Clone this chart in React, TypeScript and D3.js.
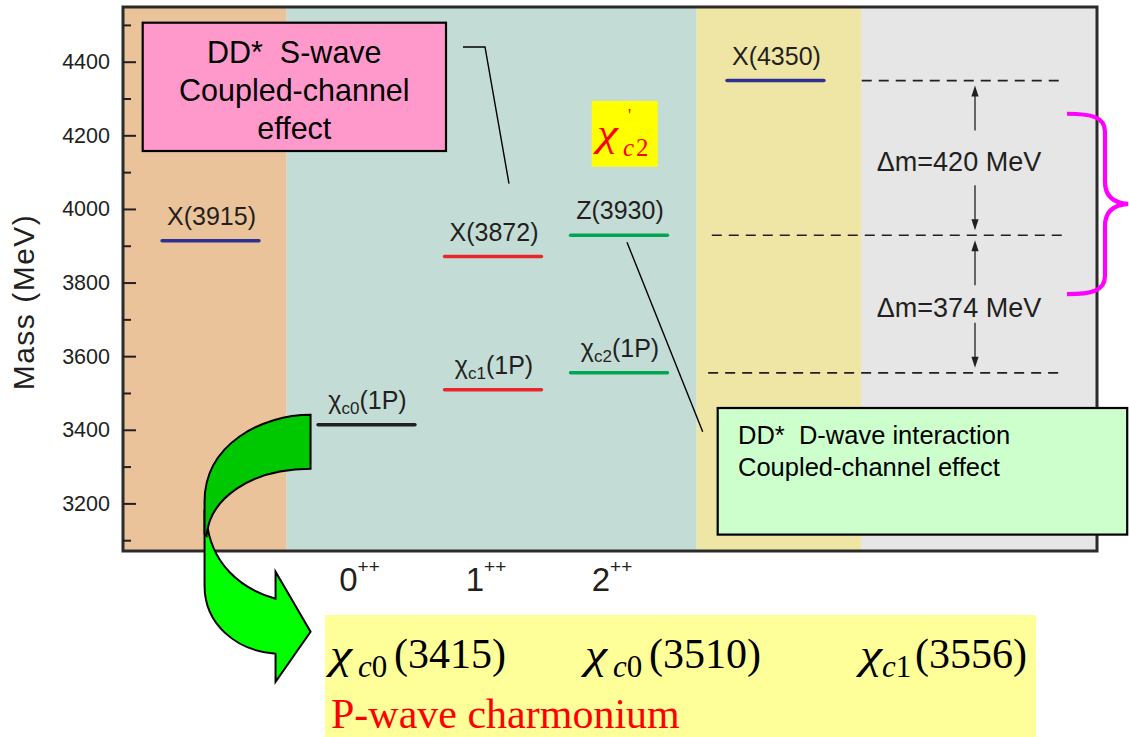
import React from "react";
import * as d3 from "d3";

// Mass axis ticks (MeV)
const massTicks = [3200, 3400, 3600, 3800, 4000, 4200, 4400];
const massMinorTicks = [3100, 3300, 3500, 3700, 3900, 4100, 4300, 4500];

// Energy levels: name, mass (MeV) and the column each one sits in
const levelNames = ["X(3915)", "χ_{c0}(1P)", "χ_{c1}(1P)", "χ_{c2}(1P)", "X(3872)", "Z(3930)", "X(4350)"];
const levelMasses = [3915, 3415, 3510, 3556, 3872, 3930, 4350];
const levelColumns = [0, 1, 2, 3, 2, 3, 4];

// J^PC columns
const jpcSpins = ["0", "1", "2"];
const jpcColumns = [1, 2, 3];

// Reference masses joined by the Δm arrows
const referenceMasses = [4350, 3930, 3556];

// P-wave charmonium listing
const pwaveSubs = ["c0", "c0", "c1"];
const pwaveMasses = [3415, 3510, 3556];

// Span of the brace (MeV)
const braceMasses = [4260, 3770];

// ---- layout & style ----
const W = 1129;
const H = 737;
const plot = { left: 123, right: 1097, top: 7, bottom: 551 };
const colUnits = [0.701, 1.95, 2.963, 3.972, 5.225];
const bands = [
  { from: 0, to: 1.311, fill: "#EBC39B" },
  { from: 1.311, to: 4.594, fill: "#C3DDD6" },
  { from: 4.594, to: 5.91, fill: "#EFE6A6" },
  { from: 5.91, to: 7.8, fill: "#E6E6E6" },
];
const dashSpans = [
  [5.916, 7.544],
  [4.715, 7.544],
  [4.686, 7.504],
];
const levelColor: Record<string, string> = {
  "X(3915)": "#2E3192",
  "X(4350)": "#2E3192",
  "χ_{c0}(1P)": "#231F20",
  "χ_{c1}(1P)": "#E8262B",
  "X(3872)": "#E8262B",
  "χ_{c2}(1P)": "#00A651",
  "Z(3930)": "#00A651",
};
const SANS = "'Liberation Sans', Arial, Helvetica, sans-serif";
const SERIF = "'Liberation Serif', 'Times New Roman', serif";
const INK = "#231F20";

const x = d3.scaleLinear().domain([0, 7.8]).range([plot.left, plot.right]);
const y = d3.scaleLinear().domain([3072, 4550]).range([plot.bottom, plot.top]);
const half = 0.4; // half length of a level line, in column units

function LevelLabel({ name, cx, by }: { name: string; cx: number; by: number }) {
  const m = name.match(/^(.*?)_\{(.*?)\}(.*)$/);
  if (!m) {
    return (
      <text x={cx} y={by} textAnchor="middle" fontFamily={SANS} fontSize={25} fill={INK}>
        {name}
      </text>
    );
  }
  return (
    <text x={cx} y={by} textAnchor="middle" fontFamily={SANS} fontSize={25} fill={INK}>
      <tspan>{m[1]}</tspan>
      <tspan fontSize={17} dy={5}>{m[2]}</tspan>
      <tspan dy={-5}>{m[3]}</tspan>
    </text>
  );
}

function arrowHead(px: number, py: number, dir: number) {
  // dir = -1 points up, +1 points down
  const len = 11;
  const w = 3.6;
  return `M${px},${py} L${px - w},${py - dir * len} L${px + w},${py - dir * len} Z`;
}

// Math-style chi: italic serif glyph widened a little
function MathChi({ cx, by, size, fill }: { cx: number; by: number; size: number; fill: string }) {
  return (
    <text
      transform={`translate(${cx}, ${by}) scale(1.25, 1)`}
      fontFamily={SERIF}
      fontStyle="italic"
      fontSize={size}
      fill={fill}
    >
      χ
    </text>
  );
}

export default function App() {
  const arrowX = x(6.823);

  // Δm arrows between neighbouring reference masses
  const gaps = referenceMasses.slice(1).map((m, i) => {
    const hi = referenceMasses[i];
    const yTop = y(hi);
    const yBot = y(m);
    const mid = (yTop + yBot) / 2;
    const g = (yBot - yTop) / 2 - 50;
    return { label: `Δm=${hi - m} MeV`, yTop, yBot, mid, g };
  });

  // brace geometry
  const bTop = y(braceMasses[0]);
  const bBot = y(braceMasses[1]);
  const bMid = (bTop + bBot) / 2;
  const bx0 = 1067;
  const bx1 = 1105;
  const bx2 = 1128;
  const bracePath = `M${bx0},${bTop} C${bx0 + 24},${bTop} ${bx1},${bTop + 3} ${bx1},${bTop + 18}
    L${bx1},${bMid - 22} C${bx1},${bMid - 7} ${bx1 + 10},${bMid - 1} ${bx2},${bMid}
    C${bx1 + 10},${bMid + 1} ${bx1},${bMid + 7} ${bx1},${bMid + 22}
    L${bx1},${bBot - 18} C${bx1},${bBot - 3} ${bx0 + 24},${bBot} ${bx0},${bBot}`;

  // curved arrow anchored at the left end of the χc0 level
  const ax = x(colUnits[1] - half) - 6;
  const ay = y(pwaveMasses[0]) - 10;

  // P-wave listing text placement
  const pwaveX = [330, 585, 860];
  const subDx = [28, 28, 22];
  const parenDx = [64, 64, 55];

  return (
    <svg
      width={W}
      height={H}
      viewBox={`0 0 ${W} ${H}`}
      style={{ position: "absolute", left: 0, top: 0, background: "#fff" }}
    >
      {/* background bands */}
      {bands.map((b, i) => (
        <rect key={i} x={x(b.from)} y={plot.top} width={x(b.to) - x(b.from)} height={plot.bottom - plot.top} fill={b.fill} />
      ))}

      {/* dashed reference lines */}
      {referenceMasses.map((m, i) => (
        <line
          key={m}
          x1={x(dashSpans[i][0])}
          x2={x(dashSpans[i][1])}
          y1={y(m)}
          y2={y(m)}
          stroke={INK}
          strokeWidth={1.6}
          strokeDasharray="10 7"
        />
      ))}

      {/* Δm arrows */}
      {gaps.map((gp, i) => (
        <g key={i}>
          <line x1={arrowX} x2={arrowX} y1={gp.mid - gp.g} y2={gp.yTop + 14} stroke={INK} strokeWidth={1.3} />
          <path d={arrowHead(arrowX, gp.yTop + 5, -1)} fill={INK} />
          <line x1={arrowX} x2={arrowX} y1={gp.mid + gp.g} y2={gp.yBot - 14} stroke={INK} strokeWidth={1.3} />
          <path d={arrowHead(arrowX, gp.yBot - 5, 1)} fill={INK} />
          <text x={arrowX - 16} y={gp.mid + 13} textAnchor="middle" fontFamily={SANS} fontSize={27} fill={INK}>
            {gp.label}
          </text>
        </g>
      ))}

      {/* energy levels */}
      {levelNames.map((name, i) => {
        const c = colUnits[levelColumns[i]];
        const ly = y(levelMasses[i]);
        return (
          <g key={name}>
            <line
              x1={x(c - half) + 1.5}
              x2={x(c + half) - 1.5}
              y1={ly}
              y2={ly}
              stroke={levelColor[name]}
              strokeWidth={3.5}
              strokeLinecap="round"
            />
            <LevelLabel name={name} cx={x(c) + 1} by={ly - 16} />
          </g>
        );
      })}

      {/* frame */}
      <rect
        x={plot.left}
        y={plot.top}
        width={plot.right - plot.left}
        height={plot.bottom - plot.top}
        fill="none"
        stroke="#2b2b2b"
        strokeWidth={3}
      />

      {/* mass axis ticks */}
      {massTicks.map((t) => (
        <g key={t}>
          <line x1={plot.left} x2={plot.left + 13} y1={y(t)} y2={y(t)} stroke={INK} strokeWidth={2} />
          <text
            x={plot.left - 13}
            y={y(t)}
            textAnchor="end"
            dominantBaseline="central"
            fontFamily={SANS}
            fontSize={21.5}
            fill={INK}
          >
            {t}
          </text>
        </g>
      ))}
      {massMinorTicks.map((t) => (
        <line key={t} x1={plot.left} x2={plot.left + 8} y1={y(t)} y2={y(t)} stroke={INK} strokeWidth={2} />
      ))}

      {/* axis title */}
      <text
        transform={`translate(33.5, 302) rotate(-90)`}
        textAnchor="middle"
        fontFamily={SANS}
        fontSize={30}
        letterSpacing={1.5}
        fill={INK}
      >
        Mass (MeV)
      </text>

      {/* J^PC labels */}
      {jpcSpins.map((s, i) => (
        <text
          key={s}
          x={x(colUnits[jpcColumns[i]]) - 7}
          y={590.5}
          textAnchor="middle"
          fontFamily={SANS}
          fontSize={33}
          fill={INK}
        >
          <tspan>{s}</tspan>
          <tspan fontSize={19} dy={-18}>++</tspan>
        </text>
      ))}

      {/* S-wave annotation */}
      <rect x={142.7} y={22.7} width={303.3} height={128.3} fill="#FF99CC" stroke="#000" strokeWidth={2.2} />
      {["DD*  S-wave", "Coupled-channel", "effect"].map((t, i) => (
        <text
          key={t}
          x={294.3}
          y={63.3 + i * 38}
          textAnchor="middle"
          fontFamily={SANS}
          fontSize={30.5}
          fill="#000"
          style={{ whiteSpace: "pre" }}
        >
          {t}
        </text>
      ))}
      <polyline
        points={`463,47 485,47 ${x(colUnits[2]) + 16},${y(3872) - 73}`}
        fill="none"
        stroke="#000"
        strokeWidth={1.4}
      />

      {/* χ'c2 tag */}
      <rect x={591.7} y={101} width={66} height={65.7} fill="#FFFF00" />
      <MathChi cx={597} by={146} size={38} fill="#FF0000" />
      <text fontFamily={SERIF} fill="#FF0000" fontSize={25}>
        <tspan x={623} y={156} fontStyle="italic">c</tspan>
        <tspan x={636} y={156}>2</tspan>
      </text>
      <text x={628} y={122} fontFamily={SERIF} fontSize={18} fill="#FF0000">'</text>

      {/* D-wave leader and annotation */}
      <line
        x1={x(colUnits[3]) + 8}
        y1={y(3930) + 7}
        x2={702.7}
        y2={431.7}
        stroke="#000"
        strokeWidth={1.4}
      />
      <rect x={717.7} y={408} width={409.5} height={126.6} fill="#CCFFCC" stroke="#000" strokeWidth={2.2} />
      {["DD*  D-wave interaction", "Coupled-channel effect"].map((t, i) => (
        <text
          key={t}
          x={738}
          y={444 + i * 32}
          fontFamily={SANS}
          fontSize={25.5}
          fill="#000"
          style={{ whiteSpace: "pre" }}
        >
          {t}
        </text>
      ))}

      {/* brace */}
      <path d={bracePath} fill="none" stroke="#FF00FF" strokeWidth={4.2} />

      {/* P-wave charmonium box */}
      <rect x={325} y={615} width={711} height={H - 615} fill="#FFFF99" />
      {pwaveMasses.map((m, i) => (
        <g key={i}>
          <MathChi cx={pwaveX[i]} by={668} size={40} fill="#000" />
          <text y={677} fontFamily={SERIF} fontSize={31} fill="#000">
            <tspan x={pwaveX[i] + subDx[i]} fontStyle="italic">{pwaveSubs[i][0]}</tspan>
            <tspan>{pwaveSubs[i].slice(1)}</tspan>
          </text>
          <text x={pwaveX[i] + parenDx[i]} y={668} fontFamily={SERIF} fontSize={42} fill="#000">
            ({m})
          </text>
        </g>
      ))}
      <text x={331} y={728} fontFamily={SERIF} fontSize={42} fill="#FF0000">
        P-wave charmonium
      </text>

      {/* curved arrow */}
      <g transform={`translate(${ax}, ${ay})`} stroke="#000" strokeWidth={2} strokeLinejoin="miter">
        <path
          d="M-106,95 L-106,171 C-106,209 -75,236 -35,239 L-35,267 L0,217 L-35,157 L-35,184 C-70,174 -100,149 -104,105 Z"
          fill="#00FF00"
        />
        <path d="M0,0 C-48,0 -106,29 -106,87 L-106,119 L-104,121 C-101,84 -60,54 0,54 Z" fill="#00C800" />
      </g>
    </svg>
  );
}
